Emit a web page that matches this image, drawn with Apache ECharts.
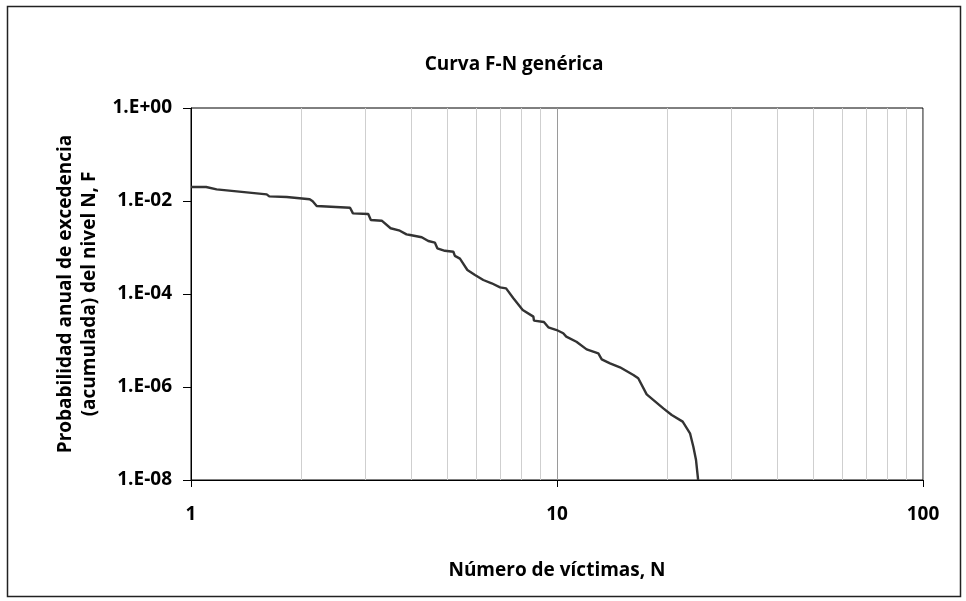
<!DOCTYPE html>
<html>
<head>
<meta charset="utf-8">
<script src="https://cdn.jsdelivr.net/npm/echarts@6/dist/echarts.min.js"></script>
<style>
  html, body { margin: 0; padding: 0; background: #fff; }
  #chart { width: 966px; height: 601px; }
</style>
</head>
<body>
<div id="chart"></div>
<script>
// Número de víctimas N and annual exceedance probability F of the generic F-N curve
const victims = [1, 1.10, 1.175, 1.61, 1.636, 1.826, 2.11, 2.15, 2.205, 2.72,
  2.77, 3.05, 3.10, 3.32, 3.51, 3.72, 3.88, 3.97, 4.27, 4.45,
  4.64, 4.71, 4.94, 5.21, 5.26, 5.43, 5.69, 5.97, 6.29, 6.63,
  6.99, 7.26, 7.60, 7.68, 8.06, 8.62, 8.65, 9.21, 9.47, 9.98,
  10.4, 10.6, 11.3, 12.05, 12.97, 13.25, 13.96, 14.86, 16.17, 16.67,
  17.58, 19.52, 20.58, 22.05, 23.09, 23.58, 23.98, 24.3];
const exceedance = [2.0e-2, 2.0e-2, 1.78e-2, 1.39e-2, 1.26e-2, 1.22e-2, 1.09e-2, 9.86e-3, 7.8e-3, 7.18e-3,
  5.43e-3, 5.25e-3, 3.9e-3, 3.77e-3, 2.59e-3, 2.3e-3, 1.92e-3, 1.86e-3, 1.66e-3, 1.38e-3,
  1.27e-3, 9.6e-4, 8.5e-4, 8.1e-4, 6.6e-4, 5.75e-4, 3.28e-4, 2.57e-4, 2.0e-4, 1.7e-4,
  1.39e-4, 1.32e-4, 8.1e-5, 7.43e-5, 4.53e-5, 3.26e-5, 2.67e-5, 2.5e-5, 1.92e-5, 1.68e-5,
  1.43e-5, 1.21e-5, 9.4e-6, 6.45e-6, 5.3e-6, 3.94e-6, 3.23e-6, 2.65e-6, 1.81e-6, 1.54e-6,
  6.96e-7, 3.48e-7, 2.5e-7, 1.8e-7, 1.01e-7, 5.2e-8, 2.69e-8, 1.0e-8];

// Minor vertical gridlines of the logarithmic N axis
const minorGridN = [2, 3, 4, 5, 6, 7, 8, 9, 20, 30, 40, 50, 60, 70, 80, 90];

const FONT = '"Open Sans", "Noto Sans", sans-serif';
const FS = 19;

function sciLabel(v) {
  const e = Math.round(Math.log10(v));
  const s = e < 0 ? '-' : '+';
  const a = Math.abs(e);
  return '1.E' + s + (a < 10 ? '0' + a : String(a));
}

const chart = echarts.init(document.getElementById('chart'), null, { renderer: 'canvas' });

chart.setOption({
  backgroundColor: '#ffffff',
  animation: false,
  title: {
    text: 'Curva F-N genérica',
    left: 509,
    top: 50,
    textAlign: 'center',
    textStyle: { fontFamily: FONT, fontWeight: 'bold', fontSize: FS, color: '#000' }
  },
  graphic: [{
    type: 'rect',
    shape: { x: 7.5, y: 6.5, width: 953, height: 590 },
    style: { fill: null, stroke: '#222', lineWidth: 1.5 },
    silent: true
  }],
  grid: {
    left: 191, right: 43, top: 108, bottom: 121,
    show: true, borderColor: '#000', borderWidth: 1, backgroundColor: 'transparent'
  },
  xAxis: {
    type: 'log',
    logBase: 10,
    min: 1,
    max: 100,
    name: 'Número de víctimas, N',
    nameLocation: 'middle',
    nameGap: 81,
    nameTextStyle: { fontFamily: FONT, fontWeight: 'bold', fontSize: FS, color: '#000' },
    axisLine: { show: true, lineStyle: { color: '#000', width: 1 } },
    axisTick: { show: true, inside: false, length: 7, lineStyle: { color: '#000' } },
    axisLabel: {
      margin: 25,
      fontFamily: FONT, fontWeight: 'bold', fontSize: FS, color: '#000',
      formatter: v => String(Math.round(v))
    },
    splitLine: { show: true, lineStyle: { color: '#9a9a9a', width: 1 } },
    minorTick: { show: false },
    minorSplitLine: { show: false }
  },
  yAxis: {
    type: 'log',
    logBase: 10,
    min: 1e-8,
    max: 1,
    interval: 2,
    name: 'Probabilidad anual de excedencia\n(acumulada) del nivel N, F',
    nameLocation: 'middle',
    nameGap: 88,
    nameRotate: 90,
    nameTextStyle: { fontFamily: FONT, fontWeight: 'bold', fontSize: FS, color: '#000', lineHeight: 24, align: 'center' },
    axisLine: { show: true, lineStyle: { color: '#000', width: 1 } },
    axisTick: { show: true, inside: false, length: 8, lineStyle: { color: '#000' } },
    axisLabel: {
      margin: 19,
      fontFamily: FONT, fontWeight: 'bold', fontSize: FS, color: '#000',
      formatter: sciLabel
    },
    splitLine: { show: false }
  },
  series: [{
    type: 'line',
    data: victims.map((n, i) => [n, exceedance[i]]),
    showSymbol: false,
    symbol: 'none',
    smooth: false,
    lineStyle: { color: '#333333', width: 2.4 },
    z: 5,
    markLine: {
      silent: true,
      symbol: ['none', 'none'],
      label: { show: false },
      lineStyle: { color: '#cfcfcf', width: 1, type: 'solid' },
      data: minorGridN.map(n => ({ xAxis: n })),
      z: 1
    }
  }]
});
</script>
</body>
</html>
